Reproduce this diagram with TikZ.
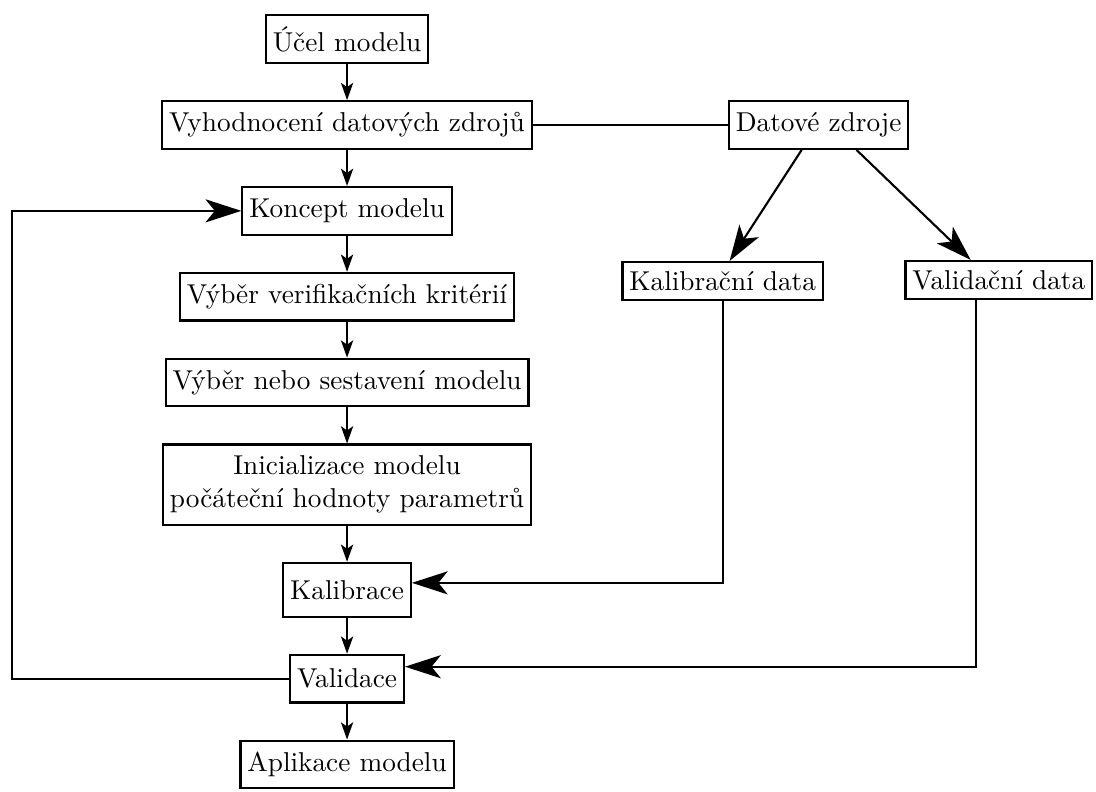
\documentclass[tikz,border=0pt]{standalone}
\usepackage{fontspec}
\usepackage{tikz}
\usetikzlibrary{arrows.meta,positioning,calc}
\tikzset{
  block/.style={draw, line width=0.8pt, align=center, minimum height=18pt,
    inner xsep=2.6pt, inner ysep=4.3pt},
  datablock/.style={draw, line width=0.8pt, align=center, minimum height=14.3pt,
    inner xsep=2.6pt, inner ysep=2.3pt},
  flow/.style={-{Stealth[length=6.5pt, width=4.6pt, inset=1.6pt]}, line width=0.8pt},
  bigflow/.style={-{Stealth[length=13.5pt, width=8.7pt, inset=3.5pt]}, line width=0.8pt}
}
\begin{document}
\begin{tikzpicture}[node distance=13.6pt, font=\fontsize{10.3}{12.4}\selectfont]
  \useasboundingbox (-131pt,14.7pt) rectangle (282.7pt,-284.2pt);
  % hlavni posloupnost
  \node[block] (ucel) at (0,0) {Účel modelu};
  \node[block, below=of ucel] (vyh) {Vyhodnocení datových zdrojů};
  \node[block, below=of vyh] (koncept) {Koncept modelu};
  \node[block, below=of koncept] (kriteria) {Výběr verifikačních kritérií};
  \node[block, below=of kriteria] (sestaveni) {Výběr nebo sestavení modelu};
  \node[block, below=of sestaveni] (init) {Inicializace modelu\\počáteční hodnoty parametrů};
  \node[block, minimum height=20.3pt, below=of init] (kalibrace) {Kalibrace};
  \node[block, below=of kalibrace] (validace) {Validace};
  \node[block, below=of validace] (aplikace) {Aplikace modelu};
  % data
  \node[block, right=73.6pt of vyh] (zdroje) {Datové zdroje};
  \node[datablock, below=41.9pt of zdroje, xshift=-36.2pt] (kaldata) {Kalibrační data};
  \node[datablock, below=41.5pt of zdroje, xshift=68pt] (valdata) {Validační data};

  \foreach \a/\b in {ucel/vyh, vyh/koncept, koncept/kriteria, kriteria/sestaveni,
      sestaveni/init, init/kalibrace, kalibrace/validace, validace/aplikace}
    \draw[flow] (\a) -- (\b);
  \draw[line width=0.8pt] (vyh) -- (zdroje);
  \draw[bigflow] ([xshift=-6.4pt]zdroje.south) -- ([xshift=2.6pt]kaldata.north);
  \draw[bigflow] ([xshift=14.3pt]zdroje.south) -- ([xshift=-10.6pt]valdata.north);
  \draw[bigflow] (kaldata.south) |- ([yshift=2.6pt]kalibrace.east);
  \draw[bigflow] ([xshift=-8.7pt]valdata.south) |- ([yshift=4.5pt]validace.east);
  \draw[bigflow] (validace.west) -| ([xshift=-86.4pt]koncept.west) -- (koncept.west);
\end{tikzpicture}
\end{document}
